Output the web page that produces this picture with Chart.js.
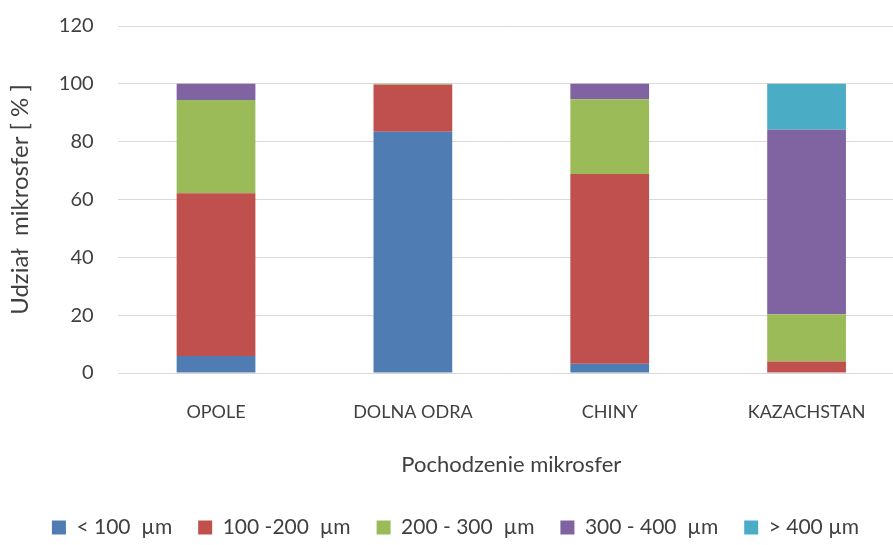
<!DOCTYPE html>
<html>
<head>
<meta charset="utf-8">
<script src="https://cdn.jsdelivr.net/npm/chart.js@4/dist/chart.umd.min.js"></script>
<style>
  html, body { margin: 0; padding: 0; background: #ffffff; }
  #wrap { width: 893px; height: 545px; overflow: hidden; position: relative; }
  #box { width: 905px; height: 555px; position: absolute; left: 0; top: -10px; }
</style>
</head>
<body>
<div id="wrap"><div id="box"><canvas id="c"></canvas></div></div>
<script>
// Origin of the microspheres (categories)
const categories = ['OPOLE', 'DOLNA ODRA', 'CHINY', 'KAZACHSTAN'];

// Share of each size fraction [%]
const below100 = [5.9, 83.4, 3.2, 0];
const from100to200 = [56.3, 16.3, 65.6, 4.0];
const from200to300 = [32.2, 0.3, 25.9, 16.3];
const from300to400 = [5.6, 0, 5.3, 63.8];
const above400 = [0, 0, 0, 15.9];

const seriesLabels = ['< 100  µm', '100 -200  µm', '200 - 300  µm', '300 - 400  µm', '> 400 µm'];
const yTicks = [0, 20, 40, 60, 80, 100, 120];

const colors = ['#4f7cb3', '#c0504d', '#9bbb59', '#8064a2', '#4bacc6'];
const seriesValues = [below100, from100to200, from200to300, from300to400, above400];

const FONT = 'Lato, "Open Sans", sans-serif';

new Chart(document.getElementById('c'), {
  type: 'bar',
  data: {
    labels: categories,
    datasets: seriesValues.map((vals, i) => ({
      label: seriesLabels[i],
      data: vals,
      backgroundColor: colors[i],
      borderWidth: 0,
      barPercentage: 0.8,
      categoryPercentage: 0.5
    }))
  },
  options: {
    responsive: true,
    maintainAspectRatio: false,
    animation: false,
    layout: { padding: { top: -6, right: 0, left: 6, bottom: -3 } },
    scales: {
      x: {
        stacked: true,
        grid: { display: false, drawTicks: false },
        border: { display: false },
        ticks: { color: '#404040', font: { family: FONT, size: 18 }, padding: 28 },
        title: {
          display: true, text: 'Pochodzenie mikrosfer', color: '#404040',
          font: { family: FONT, size: 22 }, padding: { top: 1, bottom: 13 }
        }
      },
      y: {
        stacked: true,
        min: 0, max: 120,
        afterBuildTicks(scale) { scale.ticks = yTicks.map(v => ({ value: v })); },
        grid: { color: '#d9d9d9', lineWidth: 1, drawTicks: false },
        border: { display: false },
        ticks: { color: '#404040', font: { family: FONT, size: 20 }, padding: 24 },
        title: {
          display: true, text: 'Udział  mikrosfer [ % ]', color: '#404040',
          font: { family: FONT, size: 24 }, padding: { top: 0, bottom: 0 }
        }
      }
    },
    plugins: {
      legend: {
        position: 'bottom',
        labels: {
          color: '#404040', font: { family: FONT, size: 21 },
          boxWidth: 14, boxHeight: 14, padding: 26
        }
      },
      tooltip: { enabled: false }
    }
  }
});
</script>
</body>
</html>
